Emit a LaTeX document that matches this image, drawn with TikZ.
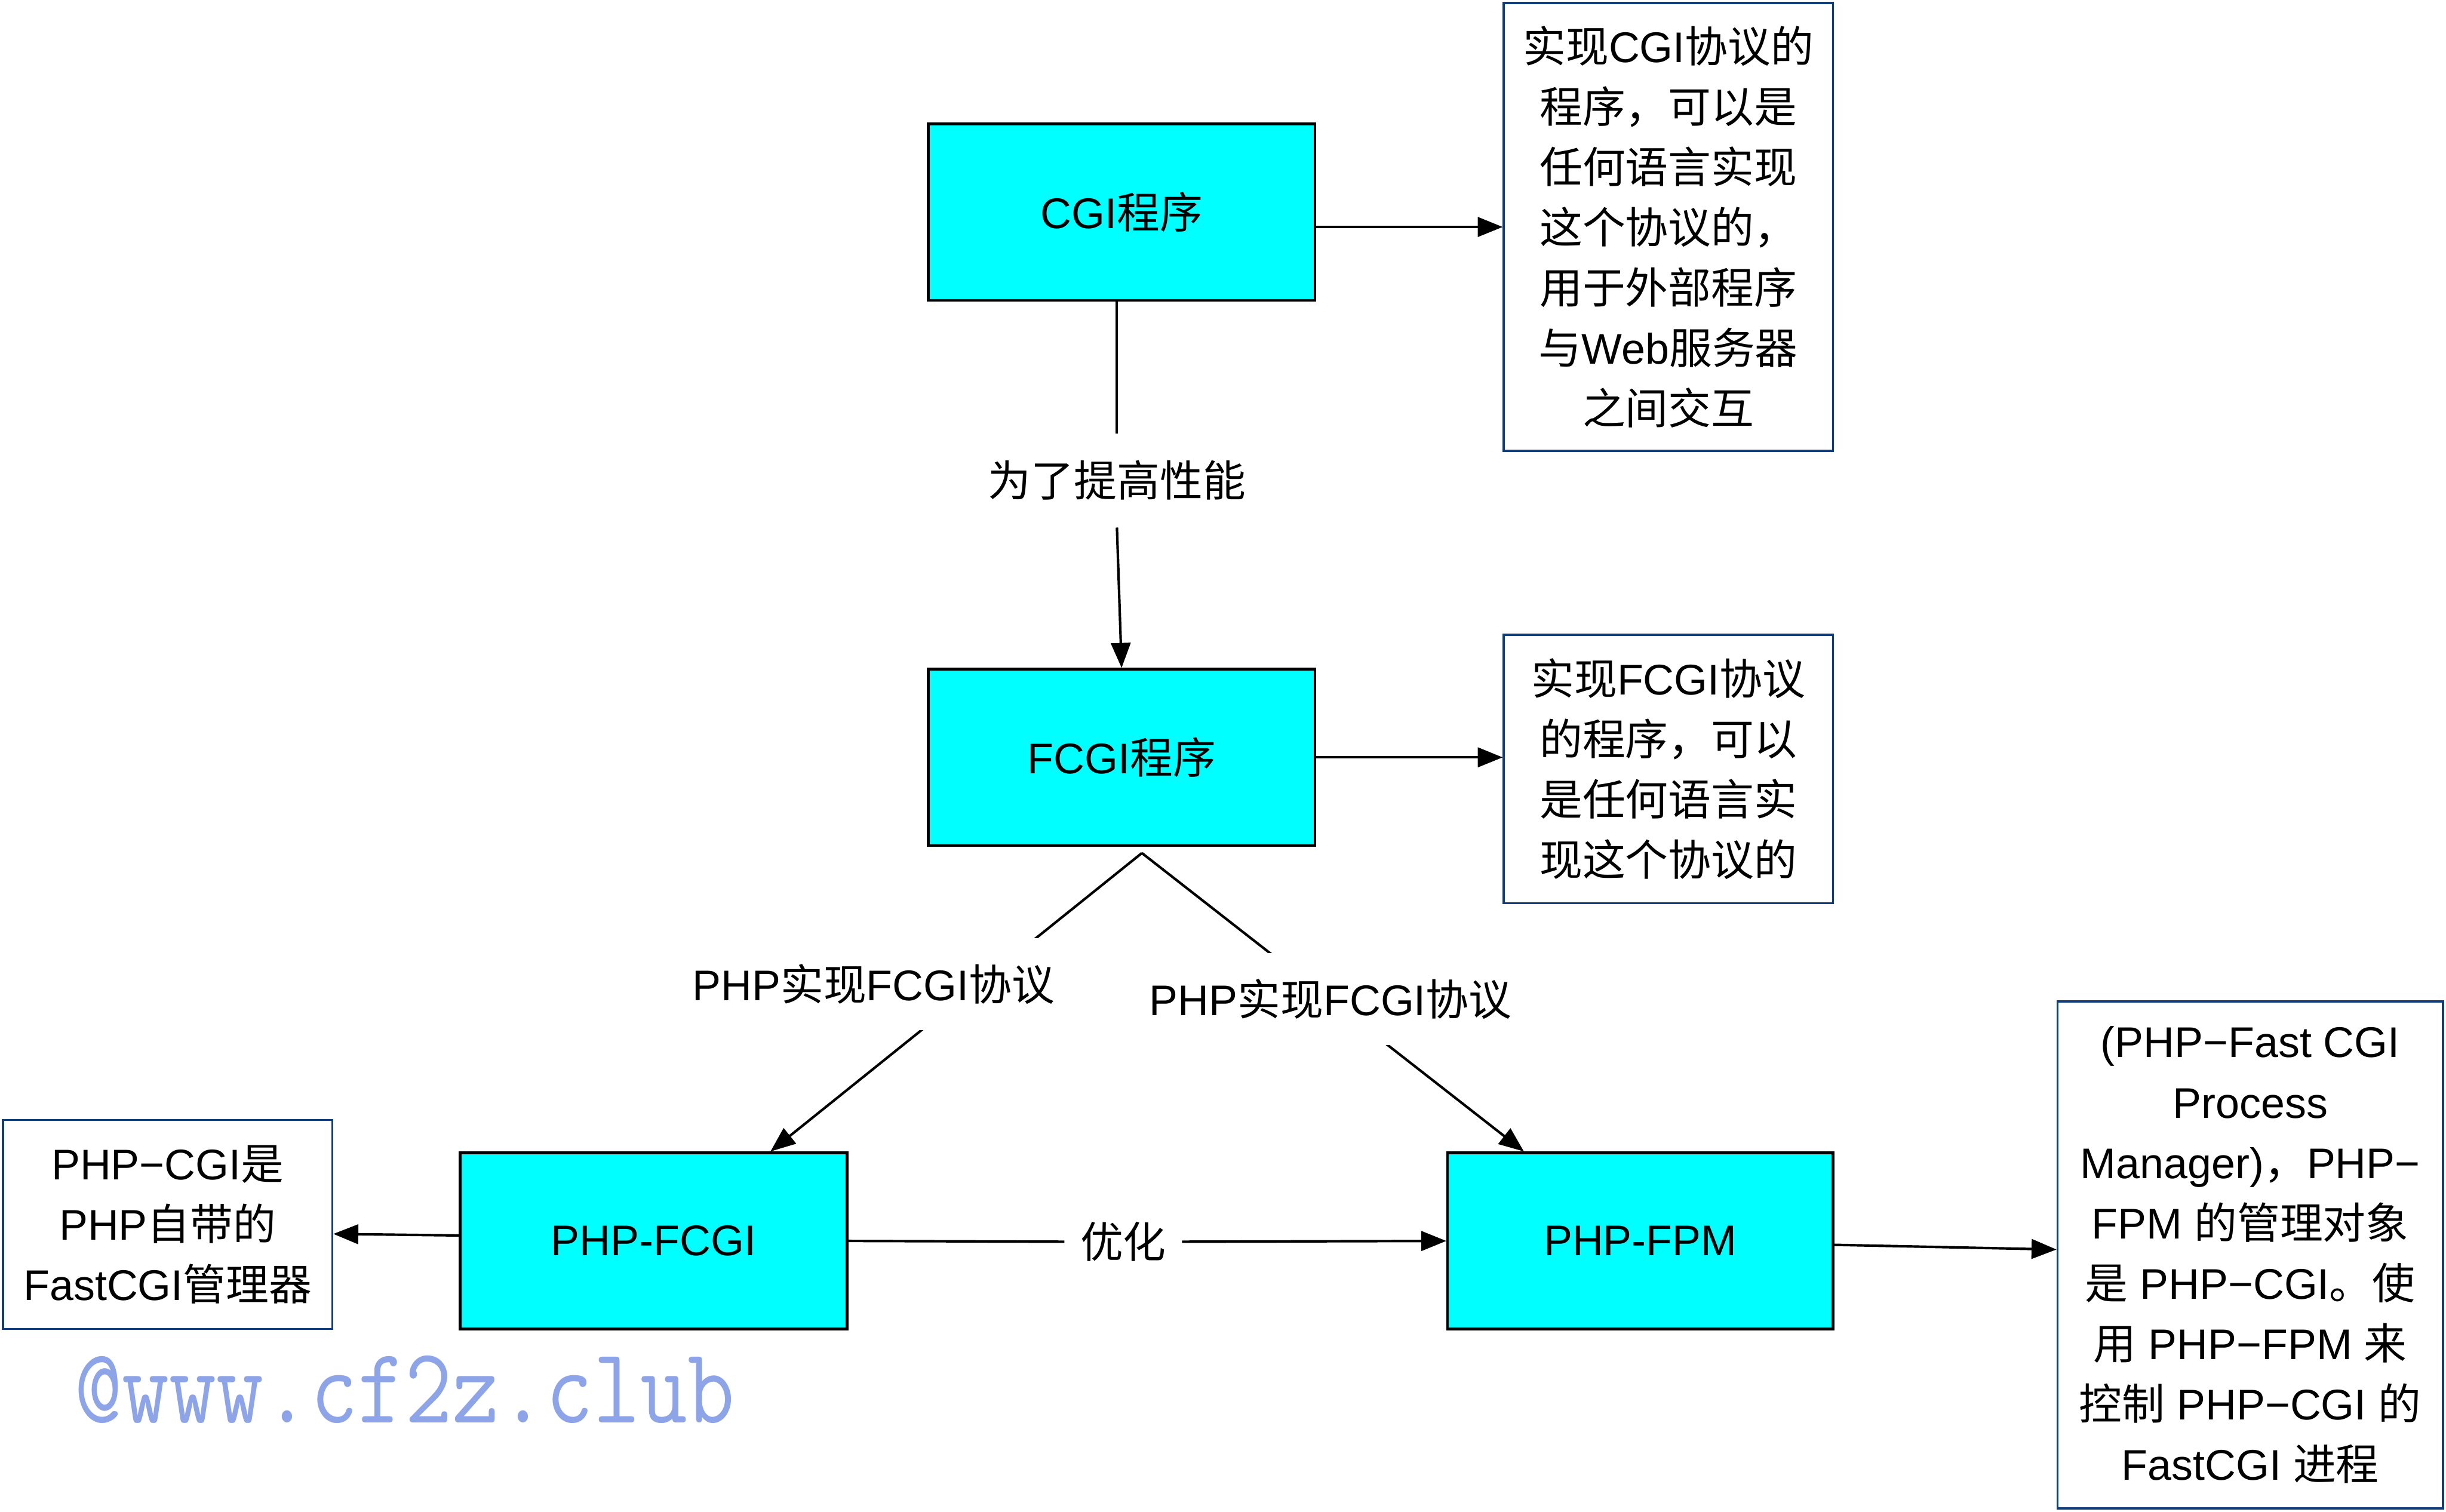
\documentclass[tikz,border=0pt]{standalone}
\usepackage{fontspec}
\setmainfont{Liberation Sans}
\newfontfamily\cjkf{Noto Sans CJK SC}
\newfontfamily\latf{Liberation Sans}
\usetikzlibrary{arrows.meta,calc}
\definecolor{boxcyan}{HTML}{00FFFF}
\definecolor{noteblue}{HTML}{0F3D7A}
\definecolor{wmblue}{HTML}{8DA4E8}
\XeTeXinterchartokenstate=1
\newXeTeXintercharclass\CJKcls
\newcount\cjkcnt
\cjkcnt="4E00
\loop\XeTeXcharclass\cjkcnt=\CJKcls\advance\cjkcnt by 1\relax\ifnum\cjkcnt<"A000\repeat
\cjkcnt="3000
\loop\XeTeXcharclass\cjkcnt=\CJKcls\advance\cjkcnt by 1\relax\ifnum\cjkcnt<"3040\repeat
\cjkcnt="FF00
\loop\XeTeXcharclass\cjkcnt=\CJKcls\advance\cjkcnt by 1\relax\ifnum\cjkcnt<"FFF0\repeat
\XeTeXinterchartoks 0 \CJKcls = {\cjkf}
\XeTeXinterchartoks 4095 \CJKcls = {\cjkf}
\XeTeXinterchartoks \CJKcls 0 = {\latf}
\XeTeXinterchartoks \CJKcls 4095 = {\latf}
\tikzset{
  prog/.style={draw=black, line width=1.7pt, fill=boxcyan, minimum width=248pt, minimum height=113pt, inner sep=0pt},
  note/.style={draw=noteblue, line width=1.4pt, fill=white, inner sep=0pt, align=center},
  conn/.style={line width=1.6pt, -{Triangle[length=16pt,width=12.5pt]}},
  plain/.style={line width=1.6pt},
  cover/.style={fill=white, inner xsep=0pt, inner ysep=0pt, minimum height=59pt},
}
\begin{document}
\begin{tikzpicture}[x=1pt,y=-1pt,font=\fontsize{27.5}{38.7}\selectfont]
\useasboundingbox (0,0) rectangle (1568,969);
% program boxes
\node[prog] (cgi) at (719,136) {CGI程序};
\node[prog] (fcgi) at (719,485.5) {FCGI程序};
\node[prog] (phpfcgi) at (419,795.5) {PHP-FCGI};
\node[prog,minimum width=247pt] (phpfpm) at (1051.5,795.5) {PHP-FPM};
% notes
\node[note,minimum width=211pt,minimum height=287pt] (n1) at (1069.5,145.5)
  {实现CGI协议的\\程序，可以是\\任何语言实现\\这个协议的，\\用于外部程序\\与Web服务器\\之间交互};
\node[note,minimum width=211pt,minimum height=172pt] (n2) at (1069.5,493)
  {实现FCGI协议\\的程序，可以\\是任何语言实\\现这个协议的};
\node[note,minimum width=211pt,minimum height=134pt] (n3) at (107.5,785)
  {PHP−CGI是\\PHP自带的\\FastCGI管理器};
\node[note,minimum width=247pt,minimum height=325pt] (n4) at (1442.5,804.5)
  {(PHP−Fast CGI\\Process\\Manager)，PHP−\\FPM 的管理对象\\是 PHP−CGI。使\\用 PHP−FPM 来\\控制 PHP−CGI 的\\FastCGI 进程};
% labels
\node[inner sep=0pt,minimum height=60pt] (l1) at (716,308) {为了提高性能};
\node[inner xsep=10pt,inner ysep=0pt,minimum height=40pt] (opt) at (720,796) {优化};
% connectors
\draw[conn] (n1.west -| cgi.east) -- (n1.west);
\draw[conn] (fcgi.east) -- (fcgi.east -| n2.west);
\draw[plain] ([xshift=-3pt]cgi.south) -- (l1.north);
\draw[conn] (l1.south) -- (fcgi.north);
\coordinate (apex) at ($(fcgi.south)+(13,4)$);
\draw[conn] (apex) -- ($(phpfcgi.north west)!0.8!(phpfcgi.north east)$);
\draw[conn] (apex) -- ($(phpfpm.north west)!0.2!(phpfpm.north east)$);
\node[cover] (l2) at (560,631) {PHP实现FCGI协议};
\node[cover] (l3) at (853,640.5) {PHP实现FCGI协议};
\draw[plain] (phpfcgi.east) -- (opt.west);
\draw[conn] (opt.east) -- (phpfpm.west);
\draw[conn] ([yshift=3.5pt]phpfcgi.west) -- ([yshift=-6pt]n3.east);
\draw[conn] ([yshift=-2.5pt]phpfpm.east) -- ([yshift=3.5pt]n4.west);
% watermark
\node[anchor=base west, text=wmblue, inner sep=0pt] (wm) at (48,912)
  {\scalebox{0.85}[1]{\ttfamily\fontsize{69}{69}\selectfont @www.cf2z.club}};
\end{tikzpicture}
\end{document}
